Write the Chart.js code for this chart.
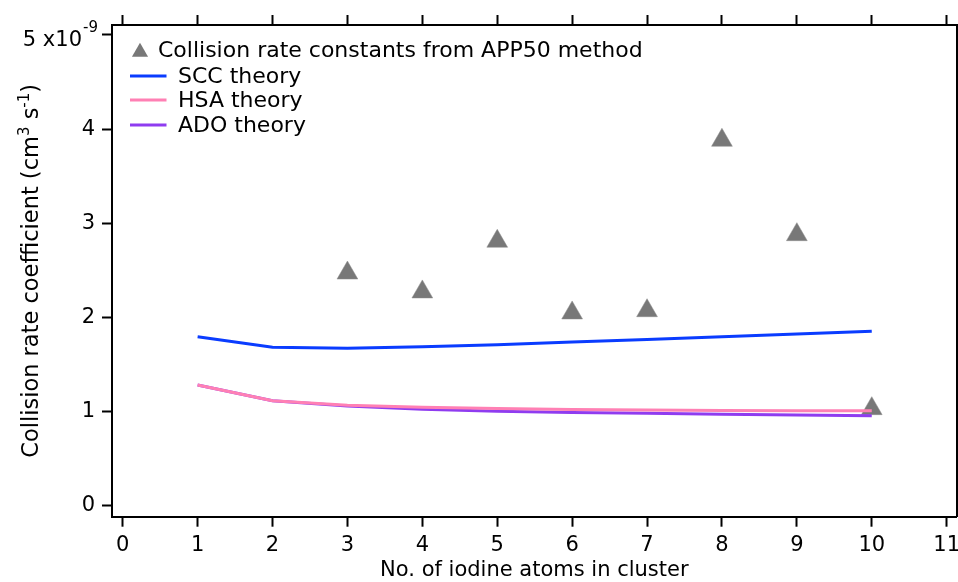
<!DOCTYPE html>
<html>
<head>
<meta charset="utf-8">
<title>Collision rate coefficient</title>
<script src="https://cdn.jsdelivr.net/npm/chart.js@4/dist/chart.umd.min.js"></script>
<style>
  body { margin: 0; background: #fff; }
  #rateChart { display: block; }
</style>
</head>
<body>
<canvas id="rateChart" width="958" height="582"></canvas>
<script>
// Chart data (units of 1e-9 cm3 s-1)
const atoms = [1, 2, 3, 4, 5, 6, 7, 8, 9, 10];
const sccTheory = [1.797, 1.685, 1.674, 1.691, 1.712, 1.74, 1.768, 1.797, 1.826, 1.855];
const hsaTheory = [1.285, 1.118, 1.07, 1.047, 1.035, 1.025, 1.018, 1.014, 1.012, 1.012];
const adoTheory = [1.285, 1.116, 1.062, 1.027, 1.005, 0.993, 0.983, 0.974, 0.966, 0.959];

const app50Atoms = [3, 4, 5, 6, 7, 8, 9, 10];
const app50Rate = [2.473, 2.272, 2.81, 2.049, 2.073, 3.882, 2.88, 1.033];

const xTicks = [0, 1, 2, 3, 4, 5, 6, 7, 8, 9, 10, 11];
const yTicks = [0, 1, 2, 3, 4, 5];

const seriesNames = [`Collision rate constants from APP50 method`, `SCC theory`, `HSA theory`, `ADO theory`];
const yTitleParts = [`Collision rate coefficient (cm`, `3`, ` s`, `-1`, `)`];

// Styles
const fontFamily = `"DejaVu Sans", "Liberation Sans", Arial, sans-serif`;
const markerGrey = `#787878`;
const sccBlue = `#0a3cff`;
const hsaPink = `#ff80b4`;
const adoPurple = `#8f3cf0`;

const toPoints = (xs, ys) => xs.map((x, i) => ({ x: x, y: ys[i] }));

// Legend, exponent label and y title (they need superscripts)
const frameText = {
  id: `frameText`,
  afterDraw(chart) {
    const ctx = chart.ctx;
    const yScale = chart.scales.y;
    ctx.save();
    ctx.fillStyle = `#000`;
    ctx.textAlign = `left`;
    ctx.textBaseline = `alphabetic`;

    // top y tick label with exponent
    const topY = yScale.getPixelForValue(5);
    ctx.font = `21px ${fontFamily}`;
    ctx.textAlign = `right`;
    ctx.fillText(`5 x10`, 82, topY + 11);
    ctx.textAlign = `left`;
    ctx.font = `15px ${fontFamily}`;
    ctx.fillText(`-9`, 83, topY - 2.5);

    // rotated y title
    const mainFont = `22.5px ${fontFamily}`;
    const supFont = `15px ${fontFamily}`;
    const widths = yTitleParts.map((part, i) => {
      ctx.font = i % 2 ? supFont : mainFont;
      return ctx.measureText(part).width;
    });
    const total = widths.reduce((a, b) => a + b, 0);
    const midY = (chart.chartArea.top + chart.chartArea.bottom) / 2;
    ctx.translate(38, midY);
    ctx.rotate(-Math.PI / 2);
    let pos = -total / 2;
    yTitleParts.forEach((part, i) => {
      ctx.font = i % 2 ? supFont : mainFont;
      ctx.fillText(part, pos, i % 2 ? -9 : 0);
      pos += widths[i];
    });
    ctx.setTransform(1, 0, 0, 1, 0, 0);

    // legend
    ctx.font = `22px ${fontFamily}`;
    const r = 9.3;
    const cx = 140, cy = 52;
    ctx.beginPath();
    ctx.moveTo(cx, cy - r);
    ctx.lineTo(cx + r * Math.sin(Math.PI * 2 / 3), cy + r / 2);
    ctx.lineTo(cx - r * Math.sin(Math.PI * 2 / 3), cy + r / 2);
    ctx.closePath();
    ctx.fillStyle = markerGrey;
    ctx.fill();
    ctx.fillStyle = `#000`;
    ctx.fillText(seriesNames[0], 158, 57);

    const rows = [
      { name: seriesNames[1], color: sccBlue, base: 82.5 },
      { name: seriesNames[2], color: hsaPink, base: 106.5 },
      { name: seriesNames[3], color: adoPurple, base: 131.5 }
    ];
    rows.forEach(row => {
      ctx.strokeStyle = row.color;
      ctx.lineWidth = 3;
      ctx.beginPath();
      ctx.moveTo(130, row.base - 6.5);
      ctx.lineTo(166.5, row.base - 6.5);
      ctx.stroke();
      ctx.fillText(row.name, 178, row.base);
    });
    ctx.restore();
  }
};

const axisGrid = {
  display: true,
  drawOnChartArea: false,
  drawTicks: true,
  tickLength: 10,
  tickColor: `#000`,
  tickWidth: 2
};
const axisBorder = { display: true, color: `#000`, width: 2 };
const tickFont = { family: fontFamily, size: 21 };

// keep the frame where the original has it
const fixHeight = h => scale => {
  scale.height = h;
  scale.paddingLeft = 0;
  scale.paddingRight = 0;
};

const rateChart = new Chart(document.getElementById(`rateChart`), {
  type: `line`,
  data: {
    datasets: [
      {
        label: seriesNames[0],
        data: toPoints(app50Atoms, app50Rate),
        showLine: false,
        pointStyle: `triangle`,
        pointRadius: 12,
        pointBackgroundColor: markerGrey,
        pointBorderColor: `#8a8a8a`,
        pointBorderWidth: 0.5,
        order: 4
      },
      {
        label: seriesNames[1],
        data: toPoints(atoms, sccTheory),
        borderColor: sccBlue,
        borderWidth: 3,
        pointRadius: 0,
        fill: false,
        order: 2
      },
      {
        label: seriesNames[2],
        data: toPoints(atoms, hsaTheory),
        borderColor: hsaPink,
        borderWidth: 3,
        pointRadius: 0,
        fill: false,
        order: 1
      },
      {
        label: seriesNames[3],
        data: toPoints(atoms, adoTheory),
        borderColor: adoPurple,
        borderWidth: 3,
        pointRadius: 0,
        fill: false,
        order: 3
      }
    ]
  },
  options: {
    responsive: false,
    animation: false,
    devicePixelRatio: 1,
    layout: { padding: 0, autoPadding: false },
    plugins: {
      legend: { display: false },
      tooltip: { enabled: false }
    },
    scales: {
      x: {
        type: `linear`,
        position: `bottom`,
        min: -0.143,
        max: 11.134,
        grid: axisGrid,
        border: axisBorder,
        afterBuildTicks: scale => { scale.ticks = xTicks.map(v => ({ value: v })); },
        afterFit: fixHeight(65.3),
        ticks: { color: `#000`, font: tickFont, padding: 6, maxRotation: 0, autoSkip: false },
        title: {
          display: true,
          text: `No. of iodine atoms in cluster`,
          color: `#000`,
          font: { family: fontFamily, size: 21, lineHeight: 1 },
          padding: { top: 0, bottom: 1 }
        }
      },
      xTop: {
        type: `linear`,
        position: `top`,
        min: -0.143,
        max: 11.134,
        grid: axisGrid,
        border: axisBorder,
        afterBuildTicks: scale => { scale.ticks = xTicks.map(v => ({ value: v })); },
        afterFit: fixHeight(25),
        ticks: { callback: () => ``, autoSkip: false }
      },
      y: {
        type: `linear`,
        position: `left`,
        min: -0.114,
        max: 5.106,
        grid: axisGrid,
        border: axisBorder,
        afterBuildTicks: scale => { scale.ticks = yTicks.map(v => ({ value: v })); },
        afterFit: scale => { scale.width = 112; },
        ticks: {
          color: `#000`,
          font: tickFont,
          padding: 7,
          autoSkip: false,
          callback: value => (value === 5 ? `` : `${value}`)
        }
      },
      yRight: {
        type: `linear`,
        position: `right`,
        min: -0.114,
        max: 5.106,
        grid: { display: false },
        border: axisBorder,
        ticks: { display: false },
        afterFit: scale => { scale.width = 1.3; }
      }
    }
  },
  plugins: [frameText]
});
</script>
</body>
</html>
